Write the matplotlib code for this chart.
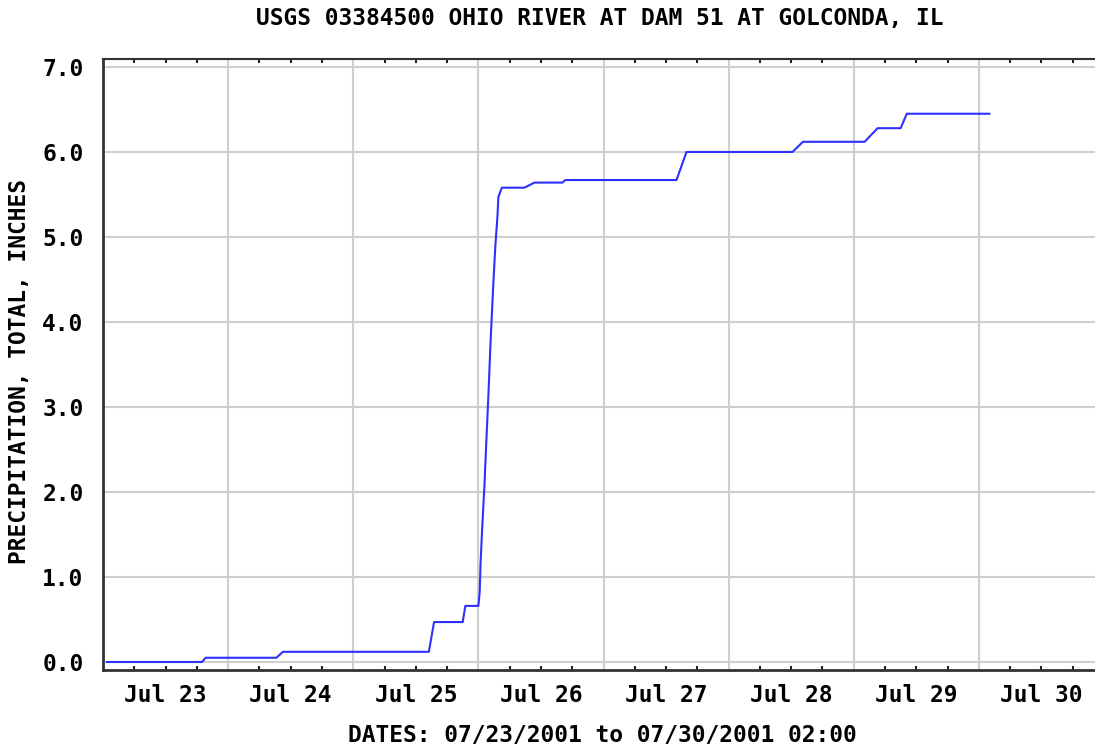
import matplotlib
matplotlib.use("Agg")
import matplotlib.pyplot as plt
import matplotlib.dates as mdates
import pandas as pd

TITLE = "USGS 03384500 OHIO RIVER AT DAM 51 AT GOLCONDA, IL"
YLABEL = "PRECIPITATION, TOTAL, INCHES"
XLABEL = "DATES: 07/23/2001 to 07/30/2001 02:00"

# readings (cumulative precipitation, inches)
times = [
    "2001-07-23 00:45", "2001-07-23 19:00", "2001-07-23 19:40", "2001-07-24 09:15",
    "2001-07-24 10:30", "2001-07-25 14:30", "2001-07-25 15:30", "2001-07-25 21:00",
    "2001-07-25 21:30", "2001-07-26 00:00", "2001-07-26 00:15", "2001-07-26 00:25",
    "2001-07-26 00:45", "2001-07-26 01:10", "2001-07-26 01:30", "2001-07-26 01:55",
    "2001-07-26 02:20", "2001-07-26 02:50", "2001-07-26 03:15", "2001-07-26 03:40",
    "2001-07-26 03:50", "2001-07-26 04:30", "2001-07-26 08:50", "2001-07-26 10:45",
    "2001-07-26 16:08", "2001-07-26 16:40", "2001-07-27 14:00", "2001-07-27 15:55",
    "2001-07-28 12:15", "2001-07-28 14:15", "2001-07-29 02:05", "2001-07-29 04:35",
    "2001-07-29 09:00", "2001-07-29 10:10", "2001-07-30 02:00",
]
precip = [
    0.00, 0.00, 0.05, 0.05,
    0.12, 0.12, 0.47, 0.47,
    0.66, 0.66, 0.82, 1.16,
    1.60, 2.08, 2.56, 3.13,
    3.76, 4.41, 4.89, 5.25,
    5.47, 5.58, 5.58, 5.64,
    5.64, 5.67, 5.67, 6.00,
    6.00, 6.12, 6.12, 6.28,
    6.28, 6.45, 6.45,
]
yticks = [0, 1, 2, 3, 4, 5, 6, 7]

FONT = dict(family="DejaVu Sans Mono", weight="bold", size=16.5)


def noon_label(x, pos):
    d = mdates.num2date(x)
    return d.strftime("%b %d") if d.hour == 12 else ""


def main() -> None:
    t = pd.to_datetime(times)
    fig = plt.figure(figsize=(10.95, 7.47), dpi=100)
    W, H = 1095, 747
    ax = fig.add_axes([103 / W, (H - 670) / H, (1104 - 103) / W, (670 - 59) / H])

    ax.plot(t, precip, color="#2f2fff", lw=1.5, zorder=3)

    ax.set_xlim(pd.Timestamp("2001-07-23"), pd.Timestamp("2001-07-31"))
    ax.set_ylim(-0.094, 7.094)

    ax.xaxis.set_major_locator(mdates.DayLocator())
    ax.xaxis.set_major_formatter(plt.NullFormatter())
    ax.xaxis.set_minor_locator(mdates.HourLocator(byhour=[6, 12, 18]))
    ax.xaxis.set_minor_formatter(plt.FuncFormatter(noon_label))
    ax.tick_params(axis="x", which="major", length=0, top=False)
    ax.tick_params(axis="x", which="minor", length=3, width=1.5, direction="in",
                   top=True, pad=10, color="#222222")

    ax.set_yticks(yticks)
    ax.set_yticklabels([f"{v:.1f}" for v in yticks])
    ax.tick_params(axis="y", length=0, pad=14)

    for lab in ax.get_xticklabels(which="minor") + ax.get_yticklabels():
        lab.set_fontfamily(FONT["family"])
        lab.set_fontweight(FONT["weight"])
        lab.set_fontsize(FONT["size"])

    ax.grid(True, which="major", color="#cfcfcf", lw=1.5)
    ax.set_axisbelow(True)

    for side in ["left", "bottom"]:
        ax.spines[side].set_linewidth(2)
        ax.spines[side].set_color("#333333")
    ax.spines["top"].set_linewidth(1.5)
    ax.spines["top"].set_color("#333333")
    ax.spines["right"].set_visible(False)

    fig.text(600 / W, 1 - 18 / H, TITLE, ha="center", va="center", **FONT)
    fig.text(602 / W, 1 - 736 / H, XLABEL, ha="center", va="center", **FONT)
    fig.text(20 / W, 1 - 372 / H, YLABEL, ha="center", va="center", rotation=90, **FONT)

    fig.savefig("out.png", dpi=100)
    plt.close(fig)


if __name__ == "__main__":
    main()
